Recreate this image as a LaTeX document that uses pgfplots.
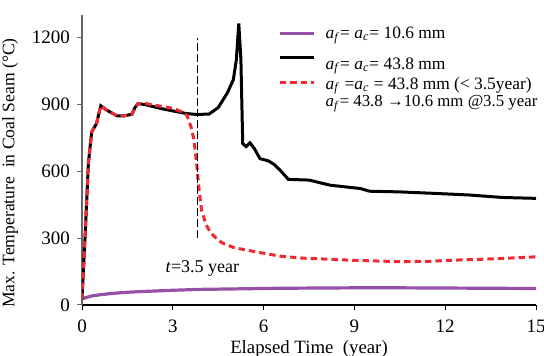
\documentclass[border=0pt]{standalone}
\usepackage{fontspec}
\setmainfont{Liberation Serif}
\usepackage{pgfplots}
\pgfplotsset{compat=1.18}
\definecolor{mypurple}{RGB}{150,80,165}
\definecolor{myred}{RGB}{240,40,50}
\newcommand{\af}{\textit{a}\textsubscript{\textit{f}}}
\newcommand{\ac}{\textit{a}\textsubscript{\textit{c}}}
\newcommand{\lrow}[2]{\raisebox{0pt}[#1]{#2}}
\begin{document}
\begin{tikzpicture}
\useasboundingbox (-41pt,-25.5pt) rectangle (231pt,152.5pt);
\begin{axis}[
  at={(0pt,0pt)}, anchor=south west,
  scale only axis, width=227pt, height=145pt,
  xmin=0, xmax=15, ymin=0, ymax=1300,
  xtick={0,3,...,15}, ytick={0,300,...,1200},
  axis lines=left,
  x axis line style={black,-, line width=0.6pt},
  y axis line style={gray!80!black,-, line width=0.6pt},
  tick align=outside, major tick length=2.5pt,
  xtick style={black, line width=0.5pt},
  ytick style={gray!80!black, line width=0.5pt},
  /pgf/number format/assume math mode=true,
  /pgf/number format/set thousands separator={},
  tick label style={font=\fontsize{9.5}{11.5}\selectfont},
  xticklabel style={yshift=-1.5pt},
  label style={font=\fontsize{9.4}{11.5}\selectfont},
  ylabel style={font=\fontsize{8.8}{10.5}\selectfont, at={(ticklabel cs:0.455)}},
  xlabel={Elapsed Time\ \ (year)},
  ylabel={Max. Temperature\ \ in Coal Seam (°C)},
  xlabel style={yshift=3pt},
  legend style={at={(rel axis cs:0.4317,0.967)}, anchor=north west, draw=none, fill=none,
    font=\fontsize{8.7}{10.5}\selectfont, row sep=0pt, inner sep=0pt,
    nodes={inner sep=0pt}, column sep=5pt},
  legend cell align=left,
]
\addplot[mypurple, line width=1.6pt] coordinates {
(0,28) (0.3,40) (0.6,46) (1,52) (1.5,57) (1.92,60) (3,66) (3.9,70) (5,72) (6.5,75) (9,77) (10.5,77) (12,76) (15,74)
};
\addlegendentry{\lrow{7pt}{\af= \ac= 10.6 mm}}
\addplot[black, line width=1.5pt] coordinates {
(0,25) (0.1,300) (0.21,634) (0.32,776) (0.48,813) (0.62,893) (0.8,875) (1.15,848) (1.4,848) (1.65,855) (1.75,885) (1.85,903) (2.1,898) (2.6,881) (3.0,870) (3.46,858) (3.8,854) (4.2,856) (4.5,885) (4.8,950) (5.0,1010) (5.1,1100) (5.18,1262) (5.25,1100) (5.31,724) (5.42,710) (5.55,727) (5.7,700) (5.88,656) (6.16,646) (6.35,630) (6.54,605) (6.82,563) (7.5,560) (8.2,537) (9.2,522) (9.5,510) (10.5,507) (11.7,500) (12.8,493) (13.9,482) (15,478)
};
\addlegendentry{\lrow{13.6pt}{\af= \ac= 43.8 mm}}
\addplot[myred, line width=1.5pt, dash pattern=on 3.2pt off 2pt] coordinates {
(0,25) (0.1,300) (0.21,634) (0.32,776) (0.48,813) (0.62,893) (0.8,875) (1.15,848) (1.4,848) (1.65,855) (1.75,885) (1.85,903) (2.1,903) (2.6,891) (3.0,882) (3.3,866) (3.46,852) (3.6,800) (3.7,740) (3.79,630) (3.85,540) (3.95,425) (4.1,360) (4.23,328) (4.5,290) (4.67,276) (5.0,258) (5.44,246) (6.0,232) (6.54,219) (7.3,210) (8.19,205) (9.0,200) (10.6,194) (11.5,196) (12.27,201) (13.2,205) (13.92,209) (15,216)
};
\addlegendentry{\lrow{8.6pt}{\af\ =\ac\ = 43.8 mm (< 3.5year)}}
\addlegendimage{legend image code/.code={}}
\addlegendentry{\lrow{7.1pt}{\fontsize{8.4}{10}\selectfont\af= 43.8 →10.6 mm @3.5 year}}
\addplot[black, line width=0.5pt, dash pattern=on 4pt off 1.5pt, forget plot] coordinates {(3.82,300) (3.82,1195)};
\node[font=\fontsize{9}{11}\selectfont] at (axis cs:3.98,164) {\textit{t}=3.5 year};
\end{axis}
\end{tikzpicture}
\end{document}
